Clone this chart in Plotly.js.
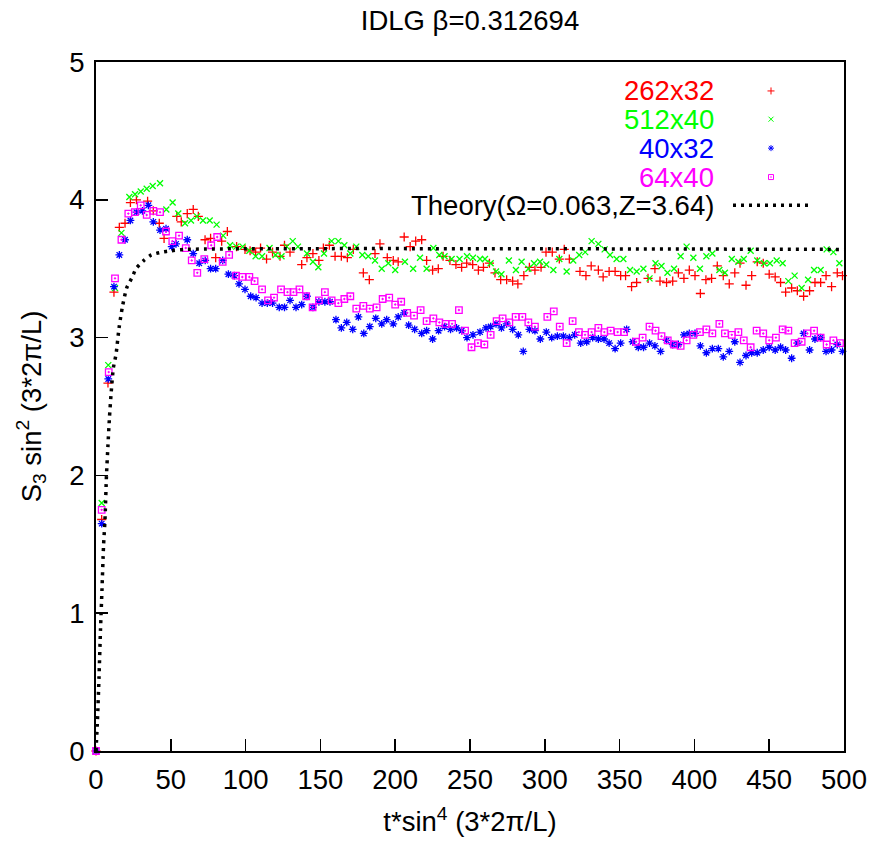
<!DOCTYPE html>
<html>
<head>
<meta charset="utf-8">
<script src="https://cdn.plot.ly/plotly-3.0.1.min.js"></script>
<style>html,body{margin:0;padding:0;background:#fff;}#chart{width:873px;height:845px;}</style>
</head>
<body>
<div id="chart"></div>
<script>
// ---- data ----
const seriesNames = ["262x32", "512x40", "40x32", "64x40"];
const theoryName = "Theory(Ω=0.063,Z=3.64)";

const redT = [0,3.8,8,12,15.6,19.4,23,27,34.5,38.3,42.3,45.5,54,57,61,65,68.4,72.9,76.6,80,84,87.8,94,99.6,103,106.7,110,114,118,123,126,129.7,137.5,141,145,149,152,156,159.8,164,168,172,178.7,182.7,186.5,189.8,194.7,198.7,202,206,210,213.7,217.7,221,225,228.8,232,236.6,240.6,244.4,247.8,251.8,255.6,259,263,266.7,270.5,274.5,278.5,282,286,289.7,293.4,297.5,300.8,305,309.7,313,316.4,323.5,327.5,331,335.8,339,343,347,350.7,354,358,361.4,369,373.6,377,381.4,385.5,389.3,393,396.6,400.4,404,407.7,411.5,415.3,419.3,423.3,427,430.5,434.5,438.3,442,446,450,454,457.6,461,465,468.8,473,477,480.6,484.4,488,491.7,495.5,499];
const redS = [0,1.68,2.67,3.33,3.80,3.83,3.98,4.00,3.99,3.92,3.83,3.72,3.88,3.84,3.90,3.93,3.88,3.71,3.72,3.58,3.70,3.77,3.66,3.64,3.63,3.62,3.65,3.57,3.62,3.59,3.67,3.62,3.53,3.58,3.61,3.56,3.65,3.67,3.59,3.59,3.58,3.64,3.47,3.42,3.61,3.68,3.58,3.56,3.55,3.73,3.66,3.70,3.71,3.56,3.49,3.50,3.59,3.56,3.53,3.51,3.54,3.53,3.49,3.51,3.54,3.47,3.42,3.42,3.41,3.39,3.45,3.51,3.49,3.51,3.62,3.62,3.57,3.64,3.57,3.48,3.45,3.52,3.49,3.44,3.48,3.48,3.45,3.45,3.37,3.40,3.43,3.50,3.41,3.40,3.41,3.47,3.43,3.49,3.45,3.32,3.42,3.43,3.52,3.45,3.39,3.47,3.54,3.38,3.45,3.55,3.54,3.46,3.44,3.40,3.33,3.36,3.34,3.30,3.34,3.40,3.40,3.45,3.37,3.47,3.45];

const greenT = [0,3.8,8.2,12.7,17,22.3,26.1,29.9,33.9,37.9,42.8,47,51.2,55,59.5,63.5,67.5,71.5,76,80.6,85,89.6,93.8,98,102.5,106.7,111,116,120,124,127.5,131.5,135,141,145,148.6,152.4,157.5,162,166,170,174,178,182,186.5,191,195.4,200,206.5,212,216.6,221,225.5,229.5,233,237.7,243,248,252,256.7,260,263.8,267.4,271,276,280.7,284.5,289,292.8,296.8,301,305.7,309.7,314.6,319,323,327,331.3,335.8,340,343.6,348,352.5,357,361.4,365.9,370,374,378,382,386.4,390.8,394.8,399.3,403.7,408,412,416.7,420.4,425,429.4,433,437.6,442,446.5,450.5,455,459,462.8,467,471.7,476,480,484.4,488.4,492.9,496.9];
const greenS = [0,1.80,2.80,3.36,3.76,4.02,4.04,4.06,4.08,4.10,4.12,3.93,3.98,3.90,3.83,3.85,3.88,3.85,3.85,3.82,3.74,3.67,3.66,3.66,3.63,3.59,3.59,3.65,3.60,3.59,3.66,3.70,3.66,3.61,3.55,3.51,3.61,3.70,3.70,3.67,3.61,3.66,3.60,3.59,3.56,3.50,3.54,3.49,3.55,3.50,3.58,3.50,3.65,3.60,3.59,3.57,3.57,3.59,3.58,3.57,3.57,3.54,3.48,3.46,3.56,3.49,3.55,3.50,3.54,3.55,3.53,3.49,3.57,3.48,3.56,3.60,3.62,3.70,3.68,3.64,3.60,3.57,3.57,3.49,3.48,3.50,3.43,3.54,3.52,3.47,3.50,3.59,3.66,3.58,3.50,3.59,3.61,3.49,3.47,3.57,3.55,3.57,3.63,3.56,3.54,3.54,3.56,3.54,3.41,3.45,3.36,3.42,3.49,3.49,3.64,3.62,3.54];

const blueT = [0,3.8,8.2,12,15.6,19.4,23,27,31,35,38.3,42.8,46.8,50.6,53.5,61,65,69,73,76.6,80,84.7,88.5,92.5,95.6,99.6,103.4,107,111,114.5,118,122.5,126,129.7,133.7,137.5,141,145,149,153,156.4,160.4,164,167.6,171.6,175.4,179,183,187,191,194.3,198.7,202,206,209,213,217.7,221,225,229,233,237,241,244.4,248,252,256.7,260.7,263.8,267.4,271,274.5,278.5,282.3,285.6,289.7,293.4,297,301,304.6,308.4,312.4,316.4,320,324,328,332,335.8,339.6,343,347,350.7,354.7,358.7,362.5,366,370,373.6,377.4,381.4,385.5,389.3,393,396.6,400.4,404,408,412,416,419.3,423.3,427,430.5,434.5,438.3,442,446,450,454,457.6,461,465,468.8,473,477,480.6,484.4,488,491.7,495.5,499];
const blueS = [0,1.65,2.70,3.37,3.60,3.71,3.85,3.91,3.92,3.96,3.84,3.78,3.79,3.66,3.68,3.71,3.61,3.54,3.56,3.50,3.50,3.56,3.46,3.45,3.39,3.35,3.30,3.29,3.25,3.25,3.25,3.22,3.22,3.27,3.22,3.24,3.30,3.22,3.26,3.26,3.26,3.13,3.07,3.11,3.06,3.15,3.03,3.08,3.14,3.10,3.13,3.10,3.15,3.18,3.09,3.06,3.03,3.05,2.99,3.05,3.08,3.06,3.07,3.05,3.00,3.02,3.04,3.07,3.08,3.10,3.07,3.10,3.06,3.02,2.90,3.06,3.05,2.99,3.04,3.00,3.01,3.01,3.00,3.02,2.96,2.97,3.00,2.99,2.99,2.96,2.92,2.96,3.06,2.97,2.93,2.93,2.96,2.94,2.90,2.98,2.95,2.95,3.02,3.03,3.03,2.94,2.89,2.92,2.92,2.86,2.90,2.97,2.82,2.87,2.89,2.89,2.91,2.93,2.91,2.93,2.91,2.85,2.96,3.03,2.91,2.99,3.00,2.90,2.91,2.95,2.90];

const pinkT = [0,3.8,8.5,12.7,17,21.6,26,29.9,33.9,38.3,42.8,46.8,51,55.5,60,64,67.7,72.4,77,81,84.7,89,93.6,97.8,102.5,106,111,115,119,123.7,128,132,136,140.5,144.8,149,153,157.5,162,166,170,174,178.7,183,187.6,191.6,196,200,204,208,212.6,217,221,225.5,229.5,233.7,238,242.6,246.7,251,255.3,259.6,263.8,267.8,271.8,276.3,280.5,285,289,293.4,301.7,306,310,314.6,318.6,322.8,326.9,331.3,335.8,339.8,344,348.7,353,361,365.4,370,374,378,382.2,386.4,390.8,394.8,399.3,403.7,408,412,416.7,420.4,425,429.4,433,437.6,441.6,446,450,454.5,459,462.8,467,471.7,475.5,480,484.4,488.4,492.9,497.3];
const pinkS = [0,1.75,2.75,3.43,3.71,3.90,3.91,3.96,3.89,3.92,3.91,3.77,3.70,3.74,3.65,3.56,3.47,3.57,3.67,3.73,3.55,3.60,3.45,3.44,3.44,3.41,3.35,3.27,3.29,3.35,3.33,3.33,3.35,3.30,3.22,3.27,3.33,3.27,3.25,3.28,3.30,3.21,3.23,3.21,3.22,3.28,3.29,3.24,3.26,3.18,3.16,3.20,3.12,3.14,3.11,3.10,3.10,3.20,3.05,2.93,2.96,2.95,3.02,3.12,3.14,3.11,3.15,3.15,3.11,3.08,3.15,3.19,3.08,2.96,3.12,3.04,3.02,3.04,3.07,3.04,3.05,3.04,3.04,2.97,3.00,3.08,3.05,3.01,2.98,2.95,2.94,2.98,3.02,3.04,3.06,3.03,3.10,3.03,3.02,3.04,2.98,2.93,3.05,3.03,2.98,3.00,3.06,3.05,2.96,2.97,3.03,3.05,3.00,2.95,2.98,2.96];

const theoryT = [0,1,2,3,4,5,6,7,8,9,10,11.6,13.4,15.4,17.6,20.5,24.3,26.7,32,37,44,50,60,500];
const theoryS = [0,0.23,0.53,0.88,1.17,1.48,1.68,2.0,2.22,2.42,2.58,2.78,2.88,3.07,3.22,3.36,3.44,3.50,3.56,3.60,3.62,3.63,3.64,3.64];

const xTicks = [0,50,100,150,200,250,300,350,400,450,500];
const yTicks = [0,1,2,3,4,5];

// ---- styling ----
const FONT = "Liberation Sans, Arial, Helvetica, sans-serif";
const FS = 27.5;
const KEY_FS = 27.5;
const colors = ["#ff0000", "#00ff00", "#0000ff", "#ff00ff"];
const symbols = ["cross-thin-open", "x-thin-open", "asterisk-open", "square-open-dot"];
const sizes = [6.5, 6, 6.5, 6.5];
const seriesT = [redT, greenT, blueT, pinkT];
const seriesS = [redS, greenS, blueS, pinkS];

const traces = [];
for (let i = 0; i < 4; i++) {
  traces.push({
    x: seriesT[i], y: seriesS[i], type: "scatter", mode: "markers", name: seriesNames[i],
    showlegend: false, cliponaxis: false,
    marker: {symbol: symbols[i], size: sizes[i], color: colors[i], line: {color: colors[i], width: 1.3}}
  });
}
traces.push({
  x: theoryT, y: theoryS, type: "scatter", mode: "lines", name: theoryName, showlegend: false,
  line: {color: "#000", width: 3.5, dash: "3px,5px", shape: "spline", smoothing: 0.6}
});

// manual gnuplot-style key (text right-aligned, sample on the right)
const keyTextX = 0.8295, keySampleX = 0.9024;
const keyY = [0.958, 0.917, 0.875, 0.833, 0.792];
for (let i = 0; i < 4; i++) {
  traces.push({
    x: [keySampleX], y: [keyY[i]], xaxis: "x2", yaxis: "y2", type: "scatter", mode: "markers",
    showlegend: false, hoverinfo: "skip",
    marker: {symbol: symbols[i], size: 5, color: colors[i], line: {color: colors[i], width: 1}}
  });
}
const annotations = [];
const keyLabels = seriesNames.concat([theoryName]);
const keyColors = colors.concat(["#000"]);
for (let i = 0; i < 5; i++) {
  annotations.push({
    xref: "paper", yref: "paper", x: keyTextX, y: keyY[i], xanchor: "right", yanchor: "middle",
    text: keyLabels[i], showarrow: false, font: {family: FONT, size: KEY_FS, color: keyColors[i]}
  });
}

const axisCommon = {
  showgrid: false, zeroline: false, showline: true, linecolor: "#000", linewidth: 2, mirror: true,
  ticks: "inside", ticklen: 12, tickwidth: 1.5, tickcolor: "#000",
  tickfont: {family: FONT, size: FS, color: "#000"}
};

const layout = {
  width: 873, height: 845,
  margin: {l: 96, r: 29, t: 62, b: 94, pad: 0},
  paper_bgcolor: "#fff", plot_bgcolor: "#fff",
  font: {family: FONT, size: FS, color: "#000"},
  title: {text: "IDLG β=0.312694", font: {family: FONT, size: FS, color: "#000"},
          x: 0.5, xref: "paper", xanchor: "center", y: 0.976, yref: "container", yanchor: "middle"},
  xaxis: Object.assign({}, axisCommon, {
    range: [0, 500], tickvals: xTicks, ticktext: xTicks.map(String), ticklabelstandoff: 3,
    title: {text: "t*sin<sup>4</sup> (3*2π/L)", font: {family: FONT, size: FS}, standoff: 18}
  }),
  yaxis: Object.assign({}, axisCommon, {
    range: [0, 5], tickvals: yTicks, ticktext: yTicks.map(String), ticklabelstandoff: 4,
    title: {text: "S<sub>3</sub> sin<sup>2</sup> (3*2π/L)", font: {family: FONT, size: FS}, standoff: 20}
  }),
  xaxis2: {overlaying: "x", range: [0, 1], visible: false, fixedrange: true},
  yaxis2: {overlaying: "y", range: [0, 1], visible: false, fixedrange: true},
  shapes: [{
    type: "line", xref: "paper", yref: "paper", x0: 0.8516, x1: 0.952, y0: keyY[4], y1: keyY[4],
    line: {color: "#000", width: 3.5, dash: "3px,5px"}
  }],
  annotations: annotations,
  showlegend: false
};

Plotly.newPlot("chart", traces, layout, {staticPlot: true, displayModeBar: false});
</script>
</body>
</html>
